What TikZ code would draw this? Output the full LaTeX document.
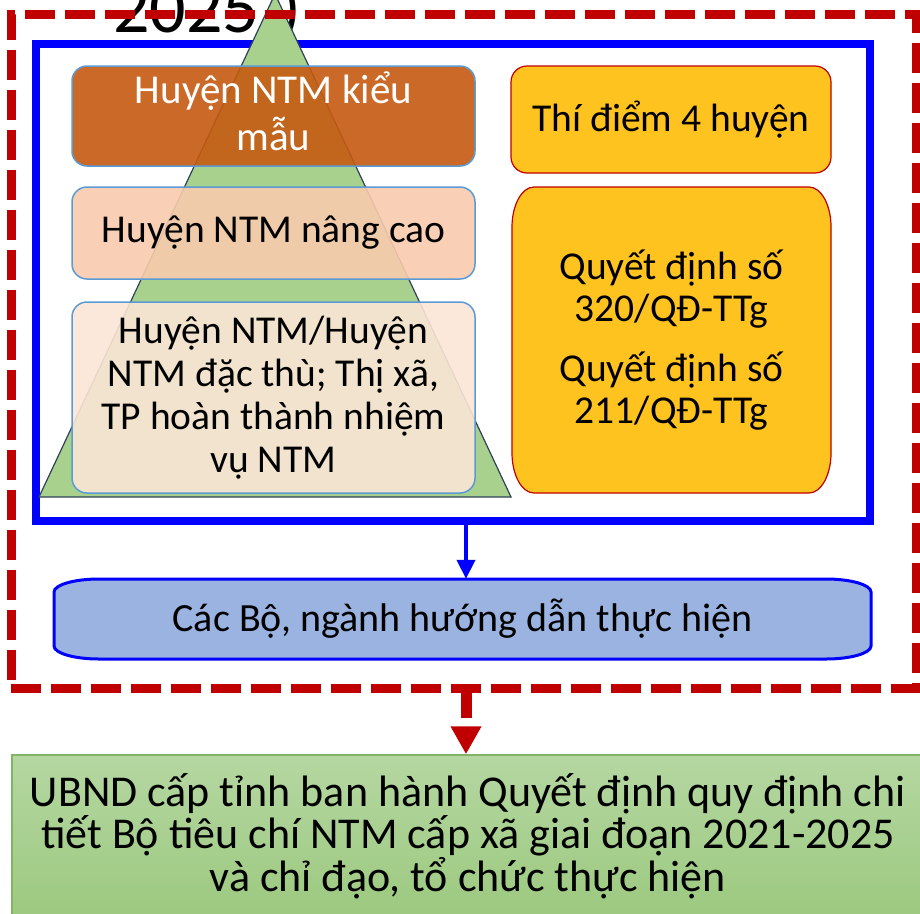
\documentclass[tikz,border=0pt]{standalone}
\usepackage{fontspec}
\setmainfont{Carlito}
\usetikzlibrary{arrows.meta,calc}
\definecolor{dred}{HTML}{C00000}
\definecolor{pblue}{HTML}{0000FF}
\definecolor{trig}{HTML}{A9D18E}
\definecolor{trigline}{HTML}{2F4058}
\definecolor{orng}{HTML}{C55A11}
\definecolor{peach}{HTML}{F8CBAD}
\definecolor{cream}{HTML}{FBE5D6}
\definecolor{lblue}{HTML}{5B9BD5}
\definecolor{gold}{HTML}{FFC31F}
\definecolor{bbox}{HTML}{9BB3E0}
\definecolor{gtop}{HTML}{B5D7A2}
\definecolor{gbot}{HTML}{9CC97F}
\definecolor{gline}{HTML}{82B366}
% #1 style, #2 L, #3 T, #4 R, #5 B, #6 rx, #7 ry
\newcommand{\myellrect}[7]{%
 \path[#1] ({#2+#6},#3) -- ({#4-#6},#3)
  .. controls ({#4-0.448*#6},#3) and (#4,{#3+0.448*#7}) .. (#4,{#3+#7})
  -- (#4,{#5-#7})
  .. controls (#4,{#5-0.448*#7}) and ({#4-0.448*#6},#5) .. ({#4-#6},#5)
  -- ({#2+#6},#5)
  .. controls ({#2+0.448*#6},#5) and (#2,{#5-0.448*#7}) .. (#2,{#5-#7})
  -- (#2,{#3+#7})
  .. controls (#2,{#3+0.448*#7}) and ({#2+0.448*#6},#3) .. ({#2+#6},#3) -- cycle;}
\begin{document}
\begin{tikzpicture}[x=1pt,y=-1pt,
  tier/.style={rounded corners=15pt, draw=lblue, line width=1.5pt, inner sep=0pt,
    minimum width=403pt, align=center, fill opacity=0.9, text opacity=1,
    font=\fontsize{39.5}{43}\selectfont},
  txt/.style={inner sep=0pt, align=center}]
\useasboundingbox (0,0) rectangle (920,913);
\clip (0,0) rectangle (920,913);
\coordinate (ax) at (466,0);

\node[anchor=base west, inner sep=0pt, font=\fontsize{72}{80}\selectfont] (yr) at (113,32) {2025\kern20pt)};
\node[draw=pblue, line width=8pt, minimum width=834pt, minimum height=477pt, inner sep=0pt] (frame) at (453,282.5) {};
\draw[trigline, line width=1.2pt, fill=trig] (275,-6) -- (511,497) -- (39,497) -- cycle;
\node[draw=dred, line width=9pt, dash pattern=on 30pt off 10pt, minimum width=905pt,
  minimum height=674pt, inner sep=0pt] (zone) at (463.5,351) {};

\node[tier, fill=orng, minimum height=100pt] (b1) at (273.5,116) {};
\node[txt, text=white, font=\fontsize{41}{47}\selectfont] (b1t) at ($(b1.center)+(0,-5)$) {Huyện NTM kiểu\\mẫu};
\node[tier, fill=peach, minimum height=92pt] (b2) at (273.5,233) {Huyện NTM nâng cao};
\node[tier, fill=cream, minimum height=191pt] (b3) at (273.5,397.5) {Huyện NTM/Huyện\\NTM đặc thù; Thị xã,\\TP hoàn thành nhiệm\\vụ NTM};

\node[draw=dred, line width=1.2pt, fill=gold, rounded corners=16pt, minimum width=320pt,
  minimum height=107pt, inner sep=0pt, font=\fontsize{39.5}{43}\selectfont] (b4) at (671,119.5) {Thí điểm 4 huyện};
\myellrect{draw=dred, line width=1.2pt, fill=gold}{512}{187}{831}{493}{22}{40}
\node[txt, minimum width=319pt, minimum height=306pt, font=\fontsize{39.5}{42}\selectfont] (b5) at (671.5,340) {Quyết định số\\320/QĐ-TTg\\[18pt]Quyết định số\\211/QĐ-TTg};

\myellrect{draw=pblue, line width=3pt, fill=bbox}{54}{579}{871}{659}{45}{13}
\node[txt, minimum width=817pt, minimum height=80pt, font=\fontsize{40}{44}\selectfont] (cb) at (462.5,619) {Các Bộ, ngành hướng dẫn thực hiện};

\node[draw=gline, line width=1.5pt, top color=gtop, bottom color=gbot, minimum width=912pt,
  minimum height=162pt, inner sep=0pt, align=center, font=\fontsize{44}{42.5}\selectfont] (gb) at (468,836)
  {UBND cấp tỉnh ban hành Quyết định quy định chi\\tiết Bộ tiêu chí NTM cấp xã giai đoạn 2021-2025\\và chỉ đạo, tổ chức thực hiện};

\draw[pblue, line width=4pt, -{Triangle[width=18pt,length=19pt]}] (frame.south -| ax) -- (cb.north -| ax);
\draw[dred, line width=11pt, dash pattern=on 25pt off 30pt, -{Triangle[width=29pt,length=28pt]}] (zone.south -| ax) -- (gb.north -| ax);
\end{tikzpicture}
\end{document}
